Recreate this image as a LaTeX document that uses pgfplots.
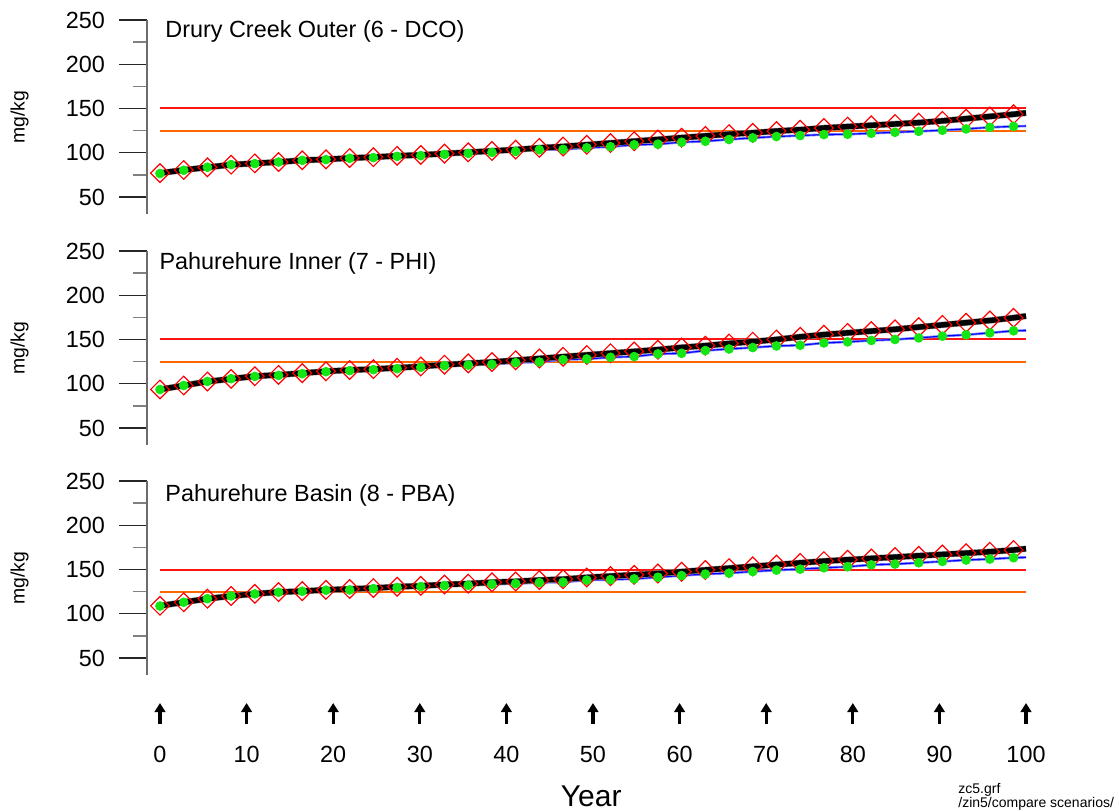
\documentclass[border=0pt]{standalone}
\usepackage{fontspec}
\setmainfont{Liberation Sans}
\usepackage{pgfplots}
\usepackage{pgfplotstable}
\pgfplotsset{compat=1.18}
\usetikzlibrary{arrows.meta}

\definecolor{thrred}{RGB}{255,20,20}
\definecolor{throrange}{RGB}{255,102,0}
\definecolor{dotgreen}{RGB}{20,230,20}
\definecolor{lineblue}{RGB}{0,0,255}
\definecolor{haloblue}{RGB}{130,130,255}

\pgfplotstableread{
t b1 g1 b2 g2 b3 g3
0 77 76.5 93.5 93.5 109 108.7
2.738 80.5 80.2 98 98 113 113
5.476 83.5 83.6 102.5 102.6 117 117
8.214 86.5 86.6 105.5 105.7 120 120.1
10.951 88 87.7 108.5 108.3 122.5 122.4
13.689 89.5 89.5 110 109.4 124.5 124.3
16.427 91.5 91.4 112 111.3 125.5 125.4
19.165 92.5 92.2 114 113.6 127 126.6
21.903 94 93.7 115.5 114.8 128 126.9
24.641 95 94.5 116.5 115.9 129 128.4
27.379 96.5 95.9 118 117 130.5 129.6
30.117 97.5 96.7 119.5 118.5 131.5 130.7
32.854 99 98.2 121.5 120.4 133 131.8
35.592 100.5 99.3 123 121.1 134 132.2
38.330 102 100.4 124.5 121.9 135.5 133.4
41.068 103.5 101.5 126.5 123.8 136.5 134.1
43.806 105.5 103.4 128.5 124.6 138 135.2
46.544 107 103.8 130.5 127.3 139 135.7
49.281 109 105.6 132.5 128 141 138
52.019 111 106.8 134.5 129.9 142.5 138.6
54.757 113 109 136.5 130.7 144 139.4
57.495 115 109.7 138.5 133.7 145.5 141.3
60.233 117 111.9 141 134.4 147.5 143.2
62.971 119 113 143 137.5 149.5 144.8
65.708 121 115 145.5 139.3 151.5 145.9
68.446 122.5 116.8 147.5 140.9 153.5 147.7
71.184 124.5 118.3 150 142.7 155.5 149.3
73.922 126 119.4 153 143.5 157.5 150.4
76.660 128 120.5 155.5 146.1 159.5 151.9
79.398 129.5 120.9 157.5 147.3 161 153.1
82.136 131 122 159.5 148.9 162.5 155.3
84.873 132.5 123.1 161.5 150 164 156.1
87.611 134 124.2 164 151.8 165.5 157.6
90.349 136 125.4 166.5 153.8 167 159.1
93.087 138.5 126.9 169 155.3 168.5 160.7
95.825 141 128.7 171.5 157.5 170 161.8
98.563 143.5 129.8 174.5 159.8 172 163.3
100 145 130.2 176.5 160.2 173.5 163.7
}\datatab

\tikzset{
  ttl/.style={anchor=base west, inner sep=0pt, font=\fontsize{11.7}{14}\selectfont},
  ylab/.style={rotate=90, font=\fontsize{9.7}{11}\selectfont},
}

\pgfplotsset{
  panel/.style={
    width=439.5pt, height=96.9pt, scale only axis,
    anchor=south west, clip=false,
    xmin=-1.5, xmax=100, ymin=31, ymax=250,
    axis x line=none, axis y line*=left,
    y axis line style={-, draw=gray!85!black, line width=0.7pt},
    ytick={50,100,150,200,250}, minor ytick={75,125,175,225},
    tick align=outside, major tick length=14pt, minor tick length=7pt,
    every major tick/.append style={black!85, line width=0.7pt},
    every minor tick/.append style={gray, line width=0.7pt},
    /pgf/number format/assume math mode=true,
    yticklabel style={font=\fontsize{11.7}{14}\selectfont, anchor=east, xshift=-3.5pt},
  },
  thrR/.style={draw=thrred, line width=1.0pt, mark=none},
  thrO/.style={draw=throrange, line width=1.0pt, mark=none},
  halo/.style={draw=haloblue, line width=1.3pt, mark=none},
  blueline/.style={draw=lineblue, line width=0.55pt, mark=none},
  blackhalo/.style={draw=black!40, line width=3.2pt, mark=none},
  blackline/.style={draw=black, line width=2.7pt, mark=none},
  diam/.style={only marks, mark=square, mark size=3.3pt, mark options={rotate=45, draw=red, fill=none, line width=0.6pt}},
  gdot/.style={only marks, mark=*, mark size=2.2pt, mark options={draw=dotgreen, fill=dotgreen}},
}

\newcommand{\panelplots}[2]{%
  \addplot[thrO] coordinates {(0,125) (100,125)};
  \addplot[thrR] coordinates {(0,150) (100,150)};
  \addplot[halo] table[x=t, y=#2] {\datatab};
  \addplot[blueline] table[x=t, y=#2] {\datatab};
  \addplot[blackhalo] table[x=t, y=#1] {\datatab};
  \addplot[blackline] table[x=t, y=#1] {\datatab};
  \addplot[diam, skip coords between index={37}{38}] table[x=t, y=#1] {\datatab};
  \addplot[gdot, skip coords between index={37}{38}] table[x=t, y=#2] {\datatab};
}

\begin{document}
\begin{tikzpicture}
\path[use as bounding box] (0,0) rectangle (559.5pt,405.5pt);

% Panel 1
\begin{axis}[panel, at={(73.5pt,298.6pt)}]
\panelplots{b1}{g1}
\node[ttl] at (axis cs:0.58,229.7) {Drury Creek Outer (6 - DCO)};
\node[ylab] at (axis cs:-16.2,140) {mg/kg};
\end{axis}

% Panel 2
\begin{axis}[panel, at={(73.5pt,183.1pt)}]
\panelplots{b2}{g2}
\node[ttl] at (axis cs:-0.1,229.3) {Pahurehure Inner (7 - PHI)};
\node[ylab] at (axis cs:-16.2,140) {mg/kg};
\end{axis}

% Panel 3
\begin{axis}[panel, at={(73.5pt,68.1pt)}]
\panelplots{b3}{g3}
\node[ttl] at (axis cs:0.58,227.4) {Pahurehure Basin (8 - PBA)};
\node[ylab] at (axis cs:-16.2,140) {mg/kg};
\end{axis}

% Year axis with arrows
\begin{axis}[width=439.5pt, height=10.5pt, scale only axis, anchor=south west,
  at={(73.5pt,43.5pt)}, xmin=-1.5, xmax=100, ymin=0, ymax=1, hide axis, clip=false]
\addplot[black, line width=1.6pt, -{Triangle[width=5.3pt,length=4.5pt]}, quiver={u=0,v=1}]
  coordinates {(0,0) (10,0) (20,0) (30,0) (40,0) (50,0) (60,0) (70,0) (80,0) (90,0) (100,0)};
\pgfplotsinvokeforeach{0,10,...,100}{
  \node[anchor=base, font=\fontsize{11.7}{14}\selectfont] at (axis cs:#1,-1.81) {#1};
}
\node[anchor=base, font=\fontsize{15}{18}\selectfont] at (axis cs:49.8,-3.905) {Year};
\end{axis}

\node[anchor=base west, font=\fontsize{7}{8}\selectfont, inner sep=0pt] at (479pt,9pt) {zc5.grf};
\node[anchor=base west, font=\fontsize{7}{8}\selectfont, inner sep=0pt] at (479pt,2pt) {/zin5/compare scenarios/};
\end{tikzpicture}
\end{document}
